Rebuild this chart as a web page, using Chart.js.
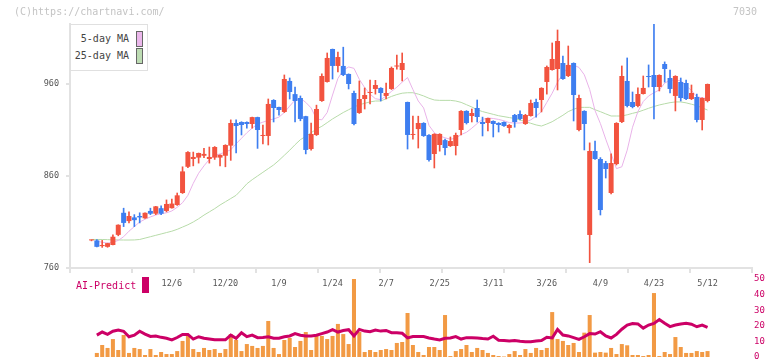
<!DOCTYPE html>
<html><head><meta charset="utf-8">
<script src="https://cdn.jsdelivr.net/npm/chart.js@4.4.1/dist/chart.umd.min.js"></script>
<style>
html,body{margin:0;padding:0;background:#fff;}
#wrap{position:relative;width:772px;height:361px;overflow:hidden;font-family:"DejaVu Sans Mono",monospace;}
canvas{position:absolute;left:0;top:0;}
.t{position:absolute;white-space:pre;line-height:10px;font-size:10px;}
.sw{position:absolute;box-sizing:border-box;border:1px solid #666;}
</style></head><body>
<div id="wrap">
<canvas id="bottom" width="772" height="361"></canvas>
<canvas id="top" width="772" height="361"></canvas>
<div class="t" style="left:14px;top:7px;color:#c4c4c4;">(C)https://chartnavi.com/</div>
<div class="t" style="right:15px;top:7px;color:#c4c4c4;">7030</div>
<div style="position:absolute;left:70px;top:24px;width:78px;height:47px;box-sizing:border-box;border:1px solid #e0e0e0;background:#fff;"></div>
<div class="t" style="right:643px;top:34px;color:#444;">5-day MA</div>
<div class="t" style="right:643px;top:51px;color:#444;">25-day MA</div>
<div class="sw" style="left:136px;top:31px;width:7px;height:16px;background:#ebb7eb;"></div>
<div class="sw" style="left:136px;top:48px;width:7px;height:16px;background:#bddcb3;"></div>
<div class="t" style="left:76px;top:281px;color:#cc0066;">AI-Predict</div>
<div style="position:absolute;left:142px;top:277px;width:7px;height:16px;background:#cc0066;"></div>
</div>
<script>
// ---- data (trading-day index 0..115) ----
const dateLabels = ['12/6','12/20','1/9','1/24','2/7','2/25','3/11','3/26','4/9','4/23','5/12'];
const dateLabelIndex = [15,25,35,45,55,65,75,85,95,105,115];
const yTickValues = [760, 860, 960];
const aiTickValues = [0, 10, 20, 30, 40, 50];

const open = [790,790,783.8,783,785,796,820,811,815,816.5,814,822,819,825,822,825,828.5,841.5,870,878.5,
880,882,878.5,880,880,882,893,917.6,918.7,918.7,916.5,924,903.5,903.5,942.6,935,929.6,963.3,949,944.8,
925,889.3,904.6,941.5,962.2,998,979.6,979.6,970.9,950.2,928.5,943.7,950.2,954.6,955.7,947,954.6,979,975.2,940.4,
904.6,911,917.6,904.6,883.9,893.7,899,892.6,892.6,910,930.7,925.2,933.9,918.7,917.6,919.8,917.6,918.7,912.2,926.3,
927.4,916.5,925.2,940.4,942.6,962.2,975.2,976.3,982.8,968.7,982.8,910,930.7,795.9,887.2,878.5,874,841.5,873,918.7,
963.3,940.4,936.1,949.1,968.7,969.8,956.7,981.7,966.5,947,962.2,961.1,943.7,945.9,920.9,941.5];
const high = [790.5,791,790,787,796,807,825,821,818,820,820,825,827,827.5,834,835,841.5,870,886.5,886,
885,890,891.5,892,883,894,921,921,919,919,924,924,915.4,943.7,943,935,969.8,966.5,956.7,947,
925,917.6,937,971,993.7,998,994.8,1000,971,952.4,963.3,955.7,964.3,964,956,961,978.5,991.5,993.7,940.4,
925,925,918,905,906,906,900,902.4,906.7,931,931,932.8,942.6,924,923,920,918,919,916,927,
930.7,927,942.6,943.7,956,979.6,1004.6,1018.7,990.4,1001.3,983,948,931,896,898,880,876,884,918,979.6,
988.3,951.3,955.7,968.7,980.7,1025,970,984,975.2,969,966.5,964.3,958.9,949,945,960];
const low = [789.5,783,782.4,782.5,785,795,805,809,805,809,814,818,818,818,821,825,828,841,869,871,
874,880,874,878,871,870,877,885,904.6,912,912,890,894.8,893.7,918.7,926,929,943.7,918.7,920,
884,888,904,941,962,965.4,973,969,954.6,915.4,928,932.8,938.3,949,941.5,943.7,954,976,963.3,889.3,
900,890.4,903,876,868.7,887,882.8,892,882.8,904.6,916.5,918.7,918.7,903.5,909,902.4,907.8,914,906.7,913,
921,916,925,924,929.6,949,975,953.5,965,968,919.8,909,888.3,765.8,878,817.6,857.8,840.4,872,918,
935,934,935,949,956.7,922,952.4,962,950.2,930.7,941.5,943,943,918.7,910,940.4];
const close = [790.5,783,785,787,794,807,809,816.5,812,815,820,819,827,819,829.6,830,839,865,886,880.7,
885,884,880.7,891.5,883,893.7,917.6,914.3,915.4,916.5,924,910,904.6,938.3,933.9,931.7,965.4,951.3,941.5,922,
888.3,905.7,932.8,968.7,988.3,979.6,989.3,969.8,960,916.5,943.7,948,951.3,958.9,950.2,950.2,977.4,980,982.8,904.6,
905.7,917.6,903.5,877.4,905.7,905.7,890.4,898,904.6,930.7,917.6,928.5,924.1,916.5,923,916.5,915.4,914.3,915.4,918.7,
922,926.3,939.3,933.9,955.7,978.5,987.2,1006.7,965.4,980.7,948,944.8,916.5,887.2,878.5,823,867.6,874.1,917.6,968.7,
936.1,935,949.1,955.7,967.6,956.7,969.8,976.3,954.6,968.7,944.8,943.7,950.2,920.9,944.8,960];
const ma5 = [null,789,788,787,788,790,794,800,805,810,813,815.5,817.6,819,820,822,826,831,839,852,
863,871,878,882.5,884,886,888.5,895,901,907,912,916.5,918.5,920.5,922,924,929,936,942.5,944.5,
940,934,922,921,929,948,966,975,978.5,977,965,956,949,944,943,947,952,956.5,962,967,
954,941.5,934,915,907,903.5,901.5,900,901,905,907.5,912,917,921.5,923,922.5,921.5,920,918,917.6,
917.6,918.5,921,925,930,940,950,962,971,978.5,980.5,978,970,954,931,917,900,884,868,870,
888,913,930,941,947,950.5,953.5,961,964,964.3,963.5,958,953,946,945,944];
const ma25 = [791,791,791,790.8,790.6,790.5,790.4,790.4,790.5,791,792.5,794,795.5,797,798.5,800,802,804.5,807,810,
813.5,817.5,821,824.5,828.5,832,835.5,839,845,851.5,856,860,864,868,872,877,882.5,888,894,899.5,
903,907,911,914,918,922,925.5,929,932,935,937.5,939,940.5,941.5,941.5,944,946.5,948.5,950,950.5,
950.5,949,947,944.5,942.6,942.2,942.2,942.2,941.5,940,937.5,935,932,930,928.5,927,925.5,924.5,923.5,922.5,
921,919,917.3,915.5,914.3,916.5,919,922.5,926,930,932.5,934.6,934.6,934.6,932,929.9,927.5,925.2,925.2,925.2,
926.5,928.1,929.5,931.5,933.6,935.5,937.2,938.5,939.7,940.5,940.5,939.5,938,936.5,934,931.7];
const volume = [0,2.6,7.7,5.8,11.5,4.5,14.1,2.6,5.8,5.1,1.3,5.1,1.3,3.2,1.9,1.9,3.8,10.3,13.5,5.1,
3.2,5.8,4.5,5.1,2.6,5.1,14.7,10.9,3.8,8.3,7.1,5.8,7.1,23.1,5.8,1.9,10.9,12.2,6.4,10.3,
16,4.5,14.1,13.5,11.5,13.5,21.2,14.7,8.3,50,16,3.2,4.5,3.2,4.5,5.1,4.5,9,9.6,28.2,
7.7,3.2,1.3,6.4,6.4,4.5,26.9,0.6,3.8,5.1,7.7,3.2,5.8,4.5,2.6,1.3,0.6,0.3,1.9,3.8,
1.3,5.1,2.6,5.8,4.5,5.8,28.8,11.5,10.3,7.7,9,3.2,15.6,26.9,2.8,3.2,2.8,5.8,1.9,8.3,
7.5,1.3,1.3,0.6,1.3,41,0.6,3.2,1.9,12.8,6.4,2.6,2.6,3.8,3.2,3.8];
const aiPredict = [null,14,16,14.5,16.5,17.3,16.5,13,14,16.5,14.7,13.2,13.5,12.6,12,11,12.5,14.5,14.5,11.5,
13,12,11.5,11,11,11,14,12,15.5,13,14,12.4,12.5,13,12,12,13,13.5,15,14,
13.5,13.5,14,15,16,17.5,16,17,17.5,13.5,17.7,16.6,16.2,17.3,16.6,17,15.6,15.6,15.2,12.2,
13.1,13.1,13.1,12.2,11.5,10.9,12,12.2,13.1,11.5,12.4,12.4,12.2,11.8,11.5,13.3,10.7,10.5,10.3,10.5,
10.1,9.8,9.8,10.3,10.5,12.6,12.2,17.7,14.1,13.5,12.4,11.3,13,15,14.7,16.2,13.5,12.2,14.5,17.8,
20.5,21.4,21.2,18.5,20.5,21.5,24,21.6,19.5,20.5,21.2,21.6,21,19.4,20.5,19];

// ---- drawing ----
const FONT = {family: '"DejaVu Sans Mono", monospace', size: 8.5};
const X_MIN = -4.01, X_MAX = 123.3;
const idx = close.map((_, i) => i);
const candleColor = idx.map(i => close[i] >= open[i] ? '#f2533f' : '#3e7ef0');
const AX = '#e2e2e2';

new Chart(document.getElementById('top'), {
  type: 'bar',
  data: {datasets: [
    {type: 'line', data: idx.map(i => ({x: i, y: ma5[i]})), borderColor: '#e9b3e9', borderWidth: 1,
     pointRadius: 0, order: 3, xAxisID: 'x', yAxisID: 'y'},
    {type: 'line', data: idx.map(i => ({x: i, y: ma25[i]})), borderColor: '#b7dba9', borderWidth: 1,
     pointRadius: 0, order: 3, xAxisID: 'x', yAxisID: 'y'},
    {type: 'bar', data: idx.map(i => ({x: i, y: [low[i], high[i]]})), backgroundColor: candleColor,
     barThickness: 1, grouped: false, order: 1, xAxisID: 'x', yAxisID: 'y'},
    {type: 'bar', data: idx.map(i => ({x: i, y: [open[i], close[i]]})), backgroundColor: candleColor,
     barPercentage: 0.93, categoryPercentage: 1, grouped: false, minBarLength: 1, order: 0, xAxisID: 'x', yAxisID: 'y'}
  ]},
  options: {
    responsive: false, animation: false, devicePixelRatio: 1,
    layout: {padding: {left: 0, right: 20, top: 24, bottom: 64}},
    plugins: {legend: {display: false}, tooltip: {enabled: false}},
    scales: {
      x: {type: 'linear', min: X_MIN, max: X_MAX, offset: false, position: 'bottom', weight: 1,
          grid: {display: false, drawTicks: false, offset: false}, border: {display: false},
          afterBuildTicks: s => { s.ticks = dateLabelIndex.map(v => ({value: v})); },
          ticks: {autoSkip: false, maxRotation: 0, minRotation: 0, padding: 2, color: '#555', font: FONT,
                  callback: v => { const k = dateLabelIndex.indexOf(v); return k >= 0 ? dateLabels[k] : ''; }},
          afterFit: s => { s.height = 20; }},
      xt: {type: 'linear', min: 0, max: 11, offset: false, position: 'bottom', weight: 0,
           ticks: {display: false, stepSize: 1},
           grid: {drawOnChartArea: false, drawTicks: true, tickLength: 5, color: AX, lineWidth: 2, offset: false},
           border: {color: AX, width: 2},
           afterFit: s => { s.height = 9; }},
      y: {type: 'linear', min: 760, max: 1025.2, position: 'left',
          afterBuildTicks: s => { s.ticks = yTickValues.map(v => ({value: v})); },
          ticks: {color: '#555', font: FONT, padding: 7},
          grid: {drawOnChartArea: false, drawTicks: true, tickLength: 4, color: AX, lineWidth: 2},
          border: {color: AX, width: 2},
          afterFit: s => { s.width = 70; }}
    }
  }
});

new Chart(document.getElementById('bottom'), {
  type: 'bar',
  data: {datasets: [
    {type: 'line', data: idx.map(i => ({x: i, y: aiPredict[i]})), borderColor: '#cc0066', borderWidth: 3,
     pointRadius: 0, order: 0, xAxisID: 'x', yAxisID: 'y'},
    {type: 'bar', data: idx.map(i => ({x: i, y: volume[i]})), backgroundColor: '#f29a44',
     barPercentage: 0.75, categoryPercentage: 1, order: 1, xAxisID: 'x', yAxisID: 'y'}
  ]},
  options: {
    responsive: false, animation: false, devicePixelRatio: 1,
    layout: {padding: {left: 70, right: 0, top: 279, bottom: 4}},
    plugins: {legend: {display: false}, tooltip: {enabled: false}},
    scales: {
      x: {type: 'linear', min: X_MIN, max: X_MAX, offset: false, display: false, grid: {offset: false}},
      y: {type: 'linear', min: 0, max: 50, position: 'right',
          afterBuildTicks: s => { s.ticks = aiTickValues.map(v => ({value: v})); },
          ticks: {color: '#cc0066', font: {family: FONT.family, size: 9}, padding: 2},
          grid: {display: false, drawTicks: false}, border: {display: false},
          afterFit: s => { s.width = 20; s.paddingTop = 0; s.paddingBottom = 0; }}
    }
  }
});
</script>
</body></html>
